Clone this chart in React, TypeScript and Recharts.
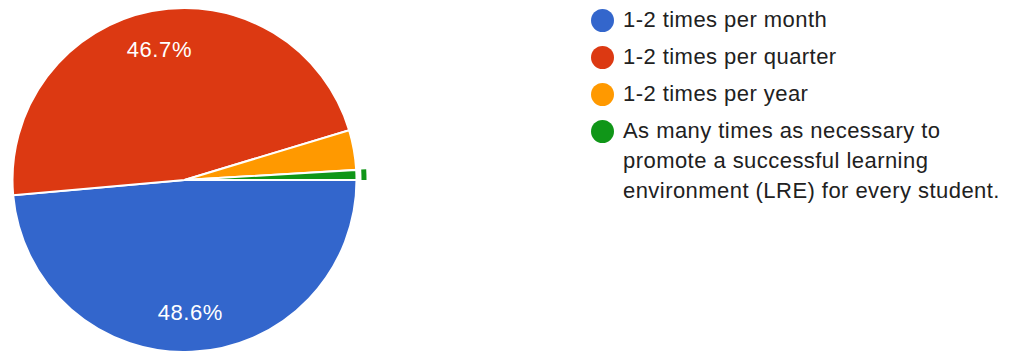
import { PieChart, Pie, Cell, Legend } from "recharts";

const categories = [
  "1-2 times per month",
  "1-2 times per quarter",
  "1-2 times per year",
  "As many times as necessary to promote a successful learning environment (LRE) for every student.",
];
const legendLines = [
  ["1-2 times per month"],
  ["1-2 times per quarter"],
  ["1-2 times per year"],
  ["As many times as necessary to", "promote a successful learning", "environment (LRE) for every student."],
];
const responses = [52, 50, 4, 1];
const colors = ["#3366cc", "#dc3912", "#ff9900", "#109618"];

const data = categories.map((name, i) => ({ name, value: responses[i] }));
const total = responses.reduce((a, b) => a + b, 0);

const FONT = "'Liberation Sans', Arial, Helvetica, sans-serif";
const RAD = Math.PI / 180;

const renderLabel = ({ cx, cy, midAngle, outerRadius, value }: any) => {
  const pct = (value / total) * 100;
  if (pct < 5) return null;
  const r = outerRadius * 0.77;
  const x = cx + r * Math.cos(-midAngle * RAD);
  const y = cy + r * Math.sin(-midAngle * RAD);
  return (
    <text
      x={x}
      y={y}
      fill="#fff"
      fontSize={22}
      letterSpacing={0.6}
      fontFamily={FONT}
      textAnchor="middle"
      dominantBaseline="central"
    >
      {pct.toFixed(1)}%
    </text>
  );
};

const renderLegend = () => (
  <div style={{ fontFamily: FONT, fontSize: 22, letterSpacing: 0.45, color: "#212121" }}>
    {legendLines.map((lines, i) => (
      <div key={i} style={{ display: "flex", alignItems: "flex-start", marginBottom: 7 }}>
        <span
          style={{
            width: 23,
            height: 23,
            borderRadius: "50%",
            background: colors[i],
            flex: "none",
            marginTop: 3.5,
            marginRight: 9,
          }}
        />
        <div style={{ lineHeight: "30px" }}>
          {lines.map((l, j) => (
            <div key={j} style={{ whiteSpace: "nowrap" }}>{l}</div>
          ))}
        </div>
      </div>
    ))}
  </div>
);

export default function App() {
  return (
    <div style={{ position: "absolute", left: 0, top: 0, width: 1013, height: 351, background: "#fff", overflow: "hidden" }}>
      <PieChart width={1013} height={351} margin={{ top: 0, right: 0, bottom: 0, left: 0 }}>
        <Pie
          data={data}
          dataKey="value"
          nameKey="name"
          cx={184.5}
          cy={180}
          outerRadius={172}
          startAngle={0}
          endAngle={-360}
          stroke="#fff"
          strokeWidth={2}
          label={renderLabel}
          labelLine={false}
          isAnimationActive={false}
        >
          {data.map((_, i) => (
            <Cell key={i} fill={colors[i]} />
          ))}
        </Pie>
        <Pie
          data={data}
          dataKey="value"
          nameKey="name"
          cx={184.5}
          cy={180}
          innerRadius={177}
          outerRadius={182}
          startAngle={0}
          endAngle={-360}
          stroke="none"
          isAnimationActive={false}
        >
          {data.map((_, i) => (
            <Cell key={i} fill={i === 3 ? colors[3] : "none"} />
          ))}
        </Pie>
        <Legend content={renderLegend} wrapperStyle={{ left: 591, top: 5, width: 420 }} />
      </PieChart>
    </div>
  );
}
